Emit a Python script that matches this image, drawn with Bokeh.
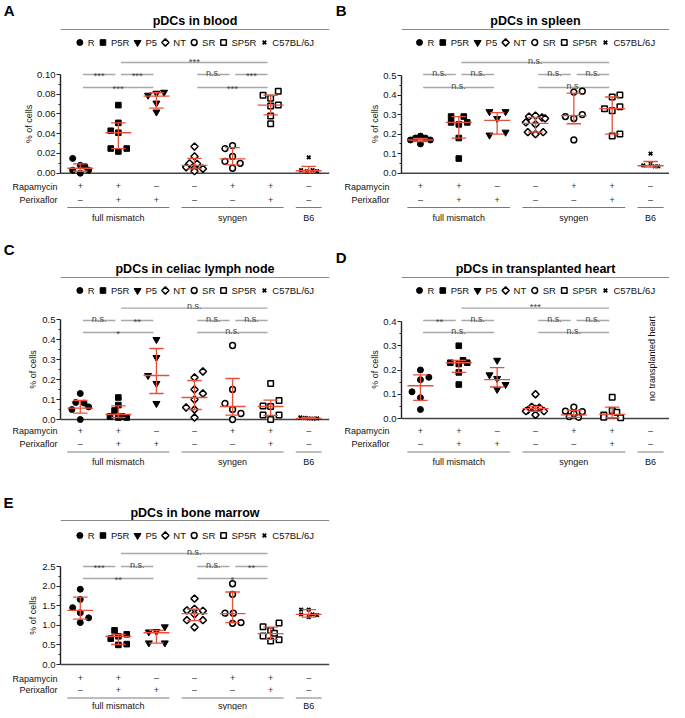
import math
from bokeh.plotting import figure
from bokeh.models import Range1d, FixedTicker, NumeralTickFormatter
from bokeh.layouts import column, row
from bokeh.embed import file_html
from bokeh.resources import INLINE
from bokeh.core.properties import value

# ---------------- data ----------------
groups = ["R", "P5R", "P5", "NT", "SR", "SP5R", "C57BL/6J"]
rapamycin = ["+", "+", "\u2013", "\u2013", "+", "+", "\u2013"]
perixaflor = ["\u2013", "+", "+", "\u2013", "\u2013", "+", "\u2013"]
cohort_names = ["full mismatch", "syngen", "B6"]
cohort_first = [0, 3, 6]
cohort_last = [2, 5, 6]
bracket_left = [0, 1, 0, 1, 3, 4, 3]
bracket_right = [1, 2, 2, 5, 4, 5, 5]
bracket_level = ["short", "short", "mid", "top", "short", "short", "mid"]

# A: blood
blood_values = [
    [0.015, 0.003, 0.008, 0.007, 0.0, 0.003],
    [0.069, 0.051, 0.043, 0.041, 0.025, 0.025, 0.022],
    [0.079, 0.081, 0.082, 0.071, 0.062],
    [0.027, 0.017, 0.010, 0.0095, 0.006, 0.005, 0.0045, 0.002],
    [0.025, 0.028, 0.017, 0.012, 0.010, 0.005],
    [0.079, 0.083, 0.076, 0.068, 0.069, 0.058, 0.050],
    [0.016, 0.003, 0.002, 0.003, 0.002],
]
blood_offsets = [
    [-0.2, -0.2, 0.0, 0.12, 0.0, 0.22],
    [0.0, 0.0, -0.2, 0.0, -0.2, 0.22, 0.0],
    [-0.22, 0.0, 0.2, 0.0, 0.0],
    [0.0, 0.0, -0.13, 0.07, -0.22, 0.0, 0.22, 0.0],
    [-0.2, 0.0, 0.0, -0.2, 0.2, 0.0],
    [-0.2, 0.2, 0.0, 0.0, 0.2, 0.0, 0.0],
    [0.0, -0.2, -0.05, 0.1, 0.22],
]
blood_median = [0.005, 0.041, 0.078, 0.008, 0.0145, 0.069, 0.0025]
blood_upper = [0.0095, 0.051, 0.0815, 0.015, 0.026, 0.079, 0.007]
blood_lower = [0.002, 0.025, 0.066, 0.0044, 0.0085, 0.059, 0.001]
blood_sig = ["***", "***", "***", "***", "n.s.", "***", "***"]
blood_ticks = [0.0, 0.02, 0.04, 0.06, 0.08, 0.10]
blood_minor = [0.01, 0.03, 0.05, 0.07, 0.09]

# B: spleen
spleen_values = [
    [0.19, 0.18, 0.18, 0.17, 0.17, 0.15],
    [0.29, 0.29, 0.26, 0.26, 0.25, 0.18, 0.075],
    [0.315, 0.315, 0.28, 0.195, 0.21],
    [0.29, 0.295, 0.285, 0.26, 0.28, 0.25, 0.21, 0.20, 0.21],
    [0.415, 0.42, 0.29, 0.28, 0.30, 0.17],
    [0.33, 0.39, 0.40, 0.32, 0.34, 0.19, 0.20],
    [0.10, 0.04, 0.048, 0.035, 0.035],
]
spleen_offsets = [
    [0.0, -0.13, 0.13, -0.26, 0.26, 0.0],
    [-0.2, 0.13, -0.2, 0.22, 0.0, 0.0, 0.0],
    [-0.2, 0.22, 0.0, -0.2, 0.22],
    [-0.17, 0.0, 0.17, -0.25, 0.25, 0.0, -0.2, 0.0, 0.2],
    [0.0, 0.22, -0.22, 0.0, 0.22, 0.0],
    [-0.2, 0.0, 0.2, 0.0, 0.2, 0.0, 0.2],
    [0.0, -0.19, 0.0, 0.11, 0.2],
]
spleen_median = [0.17, 0.26, 0.27, 0.255, 0.295, 0.33, 0.038]
spleen_upper = [0.178, 0.29, 0.31, 0.285, 0.41, 0.39, 0.06]
spleen_lower = [0.162, 0.18, 0.20, 0.21, 0.253, 0.20, 0.031]
spleen_sig = ["n.s.", "n.s.", "n.s.", "n.s.", "n.s.", "n.s.", "n.s."]
spleen_ticks = [0.0, 0.1, 0.2, 0.3, 0.4, 0.5]
spleen_minor = [0.05, 0.15, 0.25, 0.35, 0.45]

# C: celiac lymph node
ln_values = [
    [0.13, 0.085, 0.082, 0.05, 0.063, 0.0],
    [0.11, 0.072, 0.045, 0.015, 0.01, 0.01, 0.015],
    [0.40, 0.31, 0.22, 0.18, 0.08],
    [0.24, 0.21, 0.15, 0.13, 0.10, 0.06, 0.05, 0.01],
    [0.37, 0.15, 0.08, 0.05, 0.03, 0.0],
    [0.18, 0.095, 0.068, 0.065, 0.022, 0.022, 0.0],
    [0.01, 0.008, 0.006, 0.004, 0.006],
]
ln_offsets = [
    [0.0, -0.12, 0.1, -0.22, 0.22, 0.0],
    [0.0, 0.0, -0.1, -0.22, 0.0, 0.22, 0.1],
    [0.0, 0.0, -0.22, 0.0, 0.0],
    [0.22, 0.0, 0.0, 0.22, 0.0, -0.22, 0.0, 0.0],
    [0.0, 0.0, -0.2, 0.0, 0.22, 0.0],
    [0.0, 0.22, -0.2, 0.0, -0.2, 0.22, 0.0],
    [-0.22, -0.1, 0.0, 0.12, 0.22],
]
ln_median = [0.057, 0.025, 0.22, 0.11, 0.065, 0.065, 0.006]
ln_upper = [0.095, 0.068, 0.355, 0.195, 0.205, 0.097, 0.01]
ln_lower = [0.032, 0.01, 0.13, 0.05, 0.022, 0.02, 0.003]
ln_sig = ["n.s.", "**", "*", "n.s.", "n.s.", "n.s.", "n.s."]
ln_ticks = [0.0, 0.1, 0.2, 0.3, 0.4, 0.5]
ln_minor = [0.05, 0.15, 0.25, 0.35, 0.45]

# D: transplanted heart (no B6 values)
heart_values = [
    [0.20, 0.17, 0.16, 0.11, 0.086, 0.037],
    [0.30, 0.23, 0.24, 0.23, 0.225, 0.19, 0.14],
    [0.24, 0.18, 0.165, 0.14, 0.12],
    [0.10, 0.048, 0.045, 0.04, 0.035, 0.03, 0.03, 0.015],
    [0.047, 0.03, 0.028, 0.02, 0.008, 0.005],
    [0.088, 0.033, 0.026, 0.014, 0.005, 0.003],
    [],
]
heart_offsets = [
    [0.0, 0.22, 0.0, -0.22, 0.0, 0.0],
    [0.0, -0.22, 0.11, 0.22, 0.0, 0.0, 0.0],
    [0.0, -0.2, 0.0, 0.22, 0.0],
    [0.0, -0.1, 0.1, 0.0, -0.2, -0.25, 0.22, 0.0],
    [0.0, -0.22, 0.22, 0.0, -0.12, 0.12],
    [0.0, 0.0, 0.12, -0.22, -0.22, 0.22],
    [],
]
heart_median = [0.135, 0.23, 0.16, 0.041, 0.015, 0.017, None]
heart_upper = [0.18, 0.24, 0.21, 0.05, 0.034, 0.047, None]
heart_lower = [0.075, 0.19, 0.13, 0.03, 0.005, 0.003, None]
heart_sig = ["**", "n.s.", "n.s.", "***", "n.s.", "n.s.", "n.s."]
heart_ticks = [0.0, 0.1, 0.2, 0.3, 0.4]
heart_minor = [0.05, 0.15, 0.25, 0.35]
heart_note = "no transplanted heart"

# E: bone marrow
bm_values = [
    [1.92, 1.66, 1.45, 1.32, 1.19, 1.07],
    [0.87, 0.66, 0.72, 0.77, 0.50, 0.52],
    [0.83, 0.84, 0.96, 0.55, 0.55],
    [1.68, 1.42, 1.38, 1.37, 1.28, 1.13, 1.13, 0.95],
    [2.06, 1.79, 1.31, 1.31, 1.05, 1.07],
    [0.96, 1.06, 0.87, 0.73, 0.80, 0.60, 0.63],
    [1.40, 1.40, 1.28, 1.21, 1.28, 1.26],
]
bm_offsets = [
    [0.0, 0.0, -0.2, 0.0, 0.22, 0.0],
    [-0.1, -0.2, 0.0, 0.22, 0.0, 0.22],
    [-0.2, 0.0, 0.22, -0.2, 0.22],
    [0.0, 0.0, -0.2, 0.22, 0.0, -0.2, 0.22, 0.0],
    [0.0, 0.0, -0.2, 0.02, 0.0, 0.22],
    [-0.2, 0.22, 0.0, -0.2, 0.1, 0.0, 0.22],
    [-0.2, 0.0, -0.2, 0.0, 0.1, 0.22],
]
bm_median = [1.38, 0.72, 0.81, 1.30, 1.30, 0.79, 1.28]
bm_upper = [1.72, 0.77, 0.87, 1.41, 1.85, 0.955, 1.40]
bm_lower = [1.16, 0.51, 0.546, 1.12, 1.067, 0.64, 1.21]
bm_sig = ["***", "n.s.", "**", "n.s.", "n.s.", "**", "*"]
bm_ticks = [0.0, 0.5, 1.0, 1.5, 2.0, 2.5]
bm_minor = [0.25, 0.75, 1.25, 1.75, 2.25]

# ---------------- style ----------------
FONT = "Liberation Sans"
RED = "#e8503a"
BR_LINE = "#a8a8a8"
BR_TEXT = "#444444"
group_markers = ["circle", "square", "inverted_triangle", "square", "circle", "square", "x"]
group_angles = [0, 0, 0, 45, 0, 0, 0]
group_filled = [True, True, True, False, False, False, True]
group_sizes = [6, 5.6, 7, 5.1, 5.8, 5.5, 5]
group_lw = [1, 1, 1, 1.5, 1.5, 1.5, 1.8]
ARIAL = {'R': 722, 'P': 667, '5': 556, 'N': 722, 'T': 611, 'S': 667, 'C': 722, '7': 556,
         'B': 667, 'L': 556, '/': 278, '6': 556, 'J': 500, '.': 278, '0': 556, '1': 556,
         '2': 556}
ARIAL_BOLD_CAPS = {'A': 722, 'B': 722, 'C': 722, 'D': 722, 'E': 667}
SP = 38.5

hor_L = dict(width=332, frame_left=57, frame_right=329, g0=77, label_right=54, pct=25, letter_x=0)
hor_R = dict(width=337, frame_left=68, frame_right=337, g0=87, label_right=56, pct=37, letter_x=2)

geo_A = dict(height=235, title=20, tline=29, legend=42, top=62, short=74, mid=87, zero=172.7, ymax=74,
             rapa=185.5, peri=199, gline=207, glabel=217, letter=10, split1=66, split2=181)
geo_B = dict(geo_A, ymax=75)
geo_C = dict(height=235, title=33, tline=42, legend=55, top=72.7, short=85, mid=97, zero=184, ymax=84,
             rapa=195, peri=208.5, gline=216.5, glabel=226.5, letter=14, split1=78, split2=190)
geo_D = dict(geo_C, zero=183, ymax=86, letter=22)
geo_E = dict(height=240, title=42, tline=50, legend=65, top=83, short=96, mid=108, zero=194, ymax=96,
             rapa=207.5, peri=219, gline=227.5, glabel=235.3, letter=32, split1=87, split2=203)


def tw(s, size):
    return sum(ARIAL.get(c, 556) for c in s) / 1000.0 * size


def fmt_tick(t, fmt):
    dec = len(fmt.split(".")[1]) if "." in fmt else 0
    return ("%." + str(dec) + "f") % t


def marker_kw(gi):
    return dict(marker=group_markers[gi], size=group_sizes[gi], line_color="black",
                fill_color="black" if group_filled[gi] else "white",
                line_width=group_lw[gi], angle=math.radians(group_angles[gi]))


def label_axis(p, ticks, labels, standoff, size, style="normal"):
    ax = p.yaxis[0]
    ax.ticker = FixedTicker(ticks=ticks, minor_ticks=[])
    ax.major_label_overrides = {t: l for t, l in zip(ticks, labels)}
    ax.axis_line_color = None
    ax.major_tick_line_color = None
    ax.minor_tick_line_color = None
    ax.major_tick_out = 0
    ax.major_tick_in = 0
    ax.minor_tick_out = 0
    ax.major_label_standoff = int(round(standoff))
    ax.major_label_text_font = FONT
    ax.major_label_text_font_size = size
    ax.major_label_text_font_style = style
    ax.major_label_text_color = "black" if style == "bold" else "#111111"


def side_fig(W, h, xr, yr, fl, fr):
    p = figure(width=W, height=h, x_range=xr, y_range=yr, output_backend="svg",
               toolbar_location=None, x_axis_location=None,
               min_border_left=fl, min_border_right=W - fr, min_border_top=0, min_border_bottom=0)
    p.grid.visible = False
    p.outline_line_color = None
    return p


def draw_bracket(p, k, lab, lvl, ymap, tf, star_shift):
    x0 = bracket_left[k] + 0.07
    x1 = bracket_right[k] - 0.08
    p.segment(x0=[x0], y0=[ymap(lvl)], x1=[x1], y1=[ymap(lvl)], line_color=BR_LINE, line_width=1.3)
    if lab == "n.s.":
        p.text(x=[(x0 + x1) / 2], y=[ymap(lvl - 2)], text=[lab], text_font=tf,
               text_font_size="9px", text_align="center", text_baseline="alphabetic",
               text_color=BR_TEXT)
    else:
        p.text(x=[(x0 + x1) / 2], y=[ymap(lvl + star_shift)], text=[lab], text_font=tf,
               text_font_size="9.5px", text_align="center", text_baseline="alphabetic",
               text_color=BR_TEXT)


def build(letter, title, vals, offs, med, up, lo, sig, ticks, minor, fmt, ymax, geo, hor, note=None):
    W, H = hor["width"], geo["height"]
    fl, fr, g0 = hor["frame_left"], hor["frame_right"], hor["g0"]
    s1, s2 = geo["split1"], geo["split2"]

    def X(px):
        return (px - g0) / SP

    sc = ymax / (geo["zero"] - geo["ymax"])

    def Y(py):
        return (geo["zero"] - py) * sc

    def PX(py):
        return py

    tf = value(FONT)
    xs, xe = X(fl), X(fr)

    # ---------- header: letter, title, legend, top bracket ----------
    hd = side_fig(W, s1, Range1d(xs, xe), Range1d(s1, 0), fl, fr)
    lw_ = ARIAL_BOLD_CAPS.get(letter, 722) / 1000.0 * 15
    label_axis(hd, [geo["letter"]], [letter], fl - hor["letter_x"] - lw_, "15px", "bold")
    hd.text(x=[(xs + xe) / 2], y=[geo["title"]], text=[title], text_font=tf,
            text_font_size="12.5px", text_font_style="bold", text_align="center",
            text_baseline="middle", text_color="black")
    hd.segment(x0=[xs], y0=[geo["tline"]], x1=[xe], y1=[geo["tline"]],
               line_color="#8a8a8a", line_width=1)
    fs = 9.5
    cur = 0.0
    mpos, tpos = [], []
    for g in groups:
        mpos.append(cur)
        tpos.append(cur + 8.0)
        cur = cur + 8.0 + tw(g, fs) + 8.5
    total = (cur - 8.5) + 3.5
    start = (fl + fr) / 2 - total / 2 + 3.5
    ly = geo["legend"]
    for gi, g in enumerate(groups):
        hd.scatter(x=[X(start + mpos[gi])], y=[ly], **marker_kw(gi))
        hd.text(x=[X(start + tpos[gi])], y=[ly], text=[g], text_font=tf, text_font_size="9.5px",
                text_align="left", text_baseline="middle", text_color="#111111")

    # ---------- main plot ----------
    lab_w = max(tw(fmt_tick(t, fmt), 9.5) for t in ticks)
    std = max(0.0, fl - 5 - lab_w - 13 - hor["pct"])
    p = figure(width=W, height=s2 - s1, x_range=Range1d(xs, xe),
               y_range=Range1d(Y(s2), Y(s1)), output_backend="svg", toolbar_location=None,
               x_axis_location=None, min_border_left=fl, min_border_right=W - fr,
               min_border_top=0, min_border_bottom=0)
    p.grid.visible = False
    p.outline_line_color = None
    ax = p.yaxis[0]
    ax.bounds = (0, ymax)
    ax.ticker = FixedTicker(ticks=ticks, minor_ticks=minor)
    ax.formatter = NumeralTickFormatter(format=fmt)
    ax.axis_label = "% of cells"
    ax.axis_label_standoff = int(round(std))
    ax.axis_label_text_font = FONT
    ax.axis_label_text_font_size = "9px"
    ax.axis_label_text_font_style = "normal"
    ax.axis_label_text_color = "#111111"
    ax.axis_line_color = "#222222"
    ax.axis_line_width = 1.4
    ax.major_tick_line_color = "#222222"
    ax.major_tick_line_width = 1.2
    ax.major_tick_out = 4
    ax.major_tick_in = 0
    ax.minor_tick_line_color = "#222222"
    ax.minor_tick_line_width = 1
    ax.minor_tick_out = 2
    ax.minor_tick_in = 0
    ax.major_label_text_font = FONT
    ax.major_label_text_font_size = "9.5px"
    ax.major_label_text_color = "#111111"
    ax.major_label_standoff = 1

    p.segment(x0=[xs], y0=[0], x1=[xe], y1=[0], line_color="#444444", line_width=1.5)

    # brackets: each drawn in the part of the panel that holds it
    for k in range(len(bracket_left)):
        lvl = geo[bracket_level[k]]
        if lvl < s1:
            draw_bracket(hd, k, sig[k], lvl, PX, tf, -1.5)
        else:
            draw_bracket(p, k, sig[k], lvl, Y, tf, 1.0)

    for gi in range(len(groups)):
        if not vals[gi]:
            continue
        p.scatter(x=[gi + o for o in offs[gi]], y=vals[gi], **marker_kw(gi))

    for gi in range(len(groups)):
        if med[gi] is None:
            continue
        p.segment(x0=[gi], y0=[lo[gi]], x1=[gi], y1=[up[gi]], line_color=RED, line_width=1.3)
        p.segment(x0=[gi - 0.19, gi - 0.19], y0=[lo[gi], up[gi]], x1=[gi + 0.19, gi + 0.19],
                  y1=[lo[gi], up[gi]], line_color=RED, line_width=1.3)
        p.segment(x0=[gi - 0.34], y0=[med[gi]], x1=[gi + 0.34], y1=[med[gi]],
                  line_color=RED, line_width=1.3)

    if note:
        p.text(x=[X(fr - 18)], y=[Y(geo["zero"] - 60)], text=[note], angle=math.pi / 2,
               text_font=tf, text_font_size="9px", text_align="center", text_baseline="middle",
               text_color="#111111")

    # ---------- footer: treatments and cohorts ----------
    ft = side_fig(W, H - s2, Range1d(xs, xe), Range1d(H, s2), fl, fr)
    label_axis(ft, [geo["rapa"], geo["peri"]], ["Rapamycin", "Perixaflor"],
               fl - hor["label_right"], "9px")
    gx = list(range(len(groups)))
    for key, signs in (("rapa", rapamycin), ("peri", perixaflor)):
        ft.text(x=gx, y=[geo[key]] * len(gx), text=signs, text_font=tf, text_font_size="9px",
                text_align="center", text_baseline="middle", text_color="#333333")
    for ci, name in enumerate(cohort_names):
        a = cohort_first[ci] - 0.34
        b = cohort_last[ci] + 0.34
        ft.segment(x0=[a], y0=[geo["gline"]], x1=[b], y1=[geo["gline"]],
                   line_color="#7a7a7a", line_width=1)
        ft.text(x=[(cohort_first[ci] + cohort_last[ci]) / 2], y=[geo["glabel"]], text=[name],
                text_font=tf, text_font_size="9px", text_align="center", text_baseline="middle",
                text_color="#111111")

    return column(hd, p, ft, spacing=0)


pA = build("A", "pDCs in blood", blood_values, blood_offsets, blood_median, blood_upper, blood_lower,
           blood_sig, blood_ticks, blood_minor, "0.00", 0.10, geo_A, hor_L)
pB = build("B", "pDCs in spleen", spleen_values, spleen_offsets, spleen_median, spleen_upper,
           spleen_lower, spleen_sig, spleen_ticks, spleen_minor, "0.0", 0.5, geo_B, hor_R)
pC = build("C", "pDCs in celiac lymph node", ln_values, ln_offsets, ln_median, ln_upper, ln_lower,
           ln_sig, ln_ticks, ln_minor, "0.0", 0.5, geo_C, hor_L)
pD = build("D", "pDCs in transplanted heart", heart_values, heart_offsets, heart_median, heart_upper,
           heart_lower, heart_sig, heart_ticks, heart_minor, "0.0", 0.4, geo_D, hor_R, note=heart_note)
pE = build("E", "pDCs in bone marrow", bm_values, bm_offsets, bm_median, bm_upper, bm_lower,
           bm_sig, bm_ticks, bm_minor, "0.0", 2.5, geo_E, hor_L)

layout = column(row(pA, pB, spacing=0), row(pC, pD, spacing=0), pE, spacing=0)
open("out.html", "w").write(file_html(layout, INLINE))
